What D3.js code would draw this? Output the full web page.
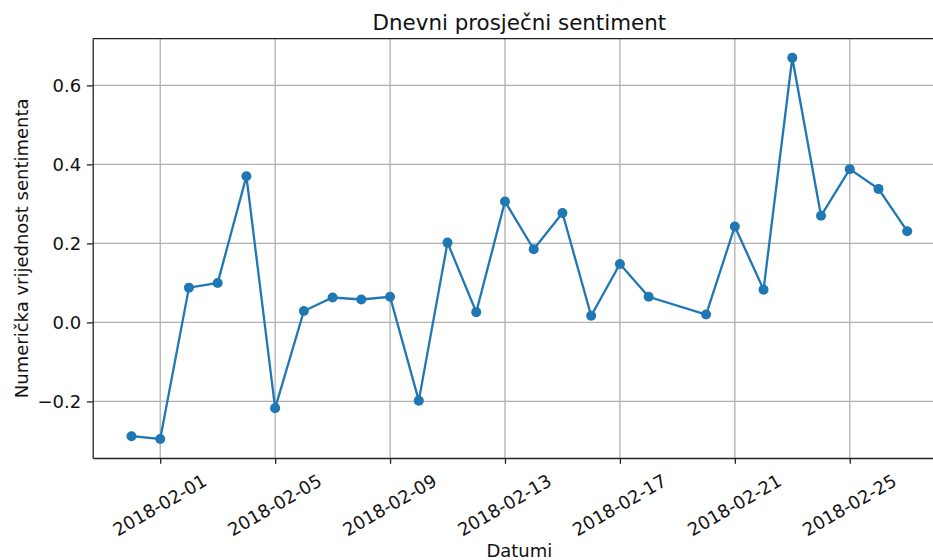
<!DOCTYPE html>
<html>
<head>
<meta charset="utf-8">
<script src="https://cdn.jsdelivr.net/npm/d3@7"></script>
<style>
  body { margin: 0; background: #fff; }
  svg { display: block; font-family: "DejaVu Sans", sans-serif; }
  .grid line { stroke: #b0b0b0; stroke-width: 1.3; }
</style>
</head>
<body>
<svg width="933" height="560"></svg>
<script>
// data
var dates = ["2018-01-31", "2018-02-01", "2018-02-02", "2018-02-03", "2018-02-04", "2018-02-05",
    "2018-02-06", "2018-02-07", "2018-02-08", "2018-02-09", "2018-02-10", "2018-02-11",
    "2018-02-12", "2018-02-13", "2018-02-14", "2018-02-15", "2018-02-16", "2018-02-17",
    "2018-02-18", "2018-02-20", "2018-02-21", "2018-02-22", "2018-02-23", "2018-02-24",
    "2018-02-25", "2018-02-26", "2018-02-27"];
var sentiment = [-0.288, -0.295, 0.088, 0.100, 0.370, -0.217,
    0.029, 0.063, 0.058, 0.065, -0.198, 0.202,
    0.026, 0.306, 0.185, 0.277, 0.017, 0.148,
    0.065, 0.020, 0.243, 0.083, 0.670, 0.270,
    0.388, 0.338, 0.231];
var xTickLabels = ["2018-02-01", "2018-02-05", "2018-02-09", "2018-02-13", "2018-02-17", "2018-02-21", "2018-02-25"];
var yTicks = [-0.2, 0.0, 0.2, 0.4, 0.6];

var parse = d3.utcParse("%Y-%m-%d");
var points = dates.map(function (d, i) { return { date: parse(d), value: sentiment[i] }; });

var svg = d3.select("svg"),
    box = { left: 92.7, right: 946, top: 38.7, bottom: 458 },
    tickFont = 18;

// matplotlib style 5% margins around the data
var xExt = d3.extent(points, function (d) { return d.date; }),
    xPad = (xExt[1] - xExt[0]) * 0.05;
var x = d3.scaleUtc()
    .domain([new Date(+xExt[0] - xPad), new Date(+xExt[1] + xPad)])
    .range([box.left, box.right]);

var yExt = d3.extent(sentiment),
    yPad = (yExt[1] - yExt[0]) * 0.05;
var y = d3.scaleLinear()
    .domain([yExt[0] - yPad, yExt[1] + yPad])
    .range([box.bottom, box.top]);

var xTicks = xTickLabels.map(parse);

// grid
var grid = svg.append("g").attr("class", "grid");
grid.selectAll(".gx").data(xTicks).enter().append("line")
    .attr("x1", function (d) { return x(d); }).attr("x2", function (d) { return x(d); })
    .attr("y1", box.top).attr("y2", box.bottom);
grid.selectAll(".gy").data(yTicks).enter().append("line")
    .attr("x1", box.left).attr("x2", box.right)
    .attr("y1", function (d) { return y(d); }).attr("y2", function (d) { return y(d); });

// axes
var fmt = d3.format(".1f");
var xAxis = svg.append("g")
    .attr("transform", "translate(0," + box.bottom + ")")
    .call(d3.axisBottom(x).tickValues(xTicks).tickSize(5.8).tickSizeOuter(0).tickFormat(""));
var yAxis = svg.append("g")
    .attr("transform", "translate(" + box.left + ",0)")
    .call(d3.axisLeft(y).tickValues(yTicks).tickSize(5.8).tickSizeOuter(0).tickPadding(5.8)
        .tickFormat(function (d) { return fmt(d).replace("-", "\u2212"); }));

[xAxis, yAxis].forEach(function (a) {
    a.attr("font-size", tickFont).attr("font-family", "DejaVu Sans");
    a.select(".domain").attr("stroke", "#222").attr("stroke-width", 1.3);
    a.selectAll(".tick line").attr("stroke", "#222").attr("stroke-width", 1.3);
});
yAxis.selectAll(".tick text").attr("fill", "#111");

// rotated date labels
xAxis.selectAll(".tick").append("text")
    .attr("transform", "translate(-1,47) rotate(-30)")
    .attr("text-anchor", "middle")
    .attr("dominant-baseline", "central")
    .attr("fill", "#111")
    .text(function (d) { return d3.utcFormat("%Y-%m-%d")(d); });

// top spine (right one falls outside the picture)
svg.append("line")
    .attr("x1", box.left).attr("x2", box.right).attr("y1", box.top).attr("y2", box.top)
    .attr("stroke", "#222").attr("stroke-width", 1.3);

// line + markers
var line = d3.line()
    .x(function (d) { return x(d.date); })
    .y(function (d) { return y(d.value); });

svg.append("path")
    .datum(points)
    .attr("fill", "none")
    .attr("stroke", "#1f77b4")
    .attr("stroke-width", 2.3)
    .attr("d", line);

svg.selectAll(".dot")
    .data(points)
    .enter()
    .append("circle")
    .attr("class", "dot")
    .attr("cx", function (d) { return x(d.date); })
    .attr("cy", function (d) { return y(d.value); })
    .attr("r", 5)
    .attr("fill", "#1f77b4");

// titles
svg.append("text")
    .attr("x", (box.left + box.right) / 2).attr("y", 30)
    .attr("text-anchor", "middle")
    .attr("font-size", 21.4).attr("fill", "#111")
    .text("Dnevni prosječni sentiment");

svg.append("text")
    .attr("x", (box.left + box.right) / 2).attr("y", 557)
    .attr("text-anchor", "middle")
    .attr("font-size", tickFont).attr("fill", "#111")
    .text("Datumi");

svg.append("text")
    .attr("transform", "translate(28," + ((box.top + box.bottom) / 2) + ") rotate(-90)")
    .attr("text-anchor", "middle")
    .attr("font-size", tickFont).attr("fill", "#111")
    .text("Numerička vrijednost sentimenta");
</script>
</body>
</html>
